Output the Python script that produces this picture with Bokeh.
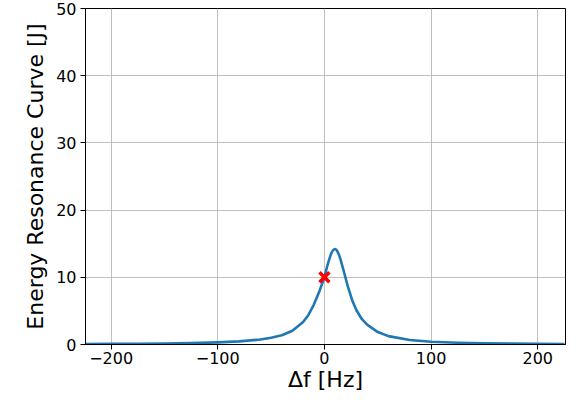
from bokeh.plotting import figure
from bokeh.models import FixedTicker, Range1d
from bokeh.embed import file_html
from bokeh.resources import INLINE

# Frequency detuning [Hz] and energy [J]
freq = [-225, -200, -175, -150, -125, -100, -80, -60, -50, -40, -30, -20, -15, -10, -5,
        0, 3, 6, 7, 8, 9, 10, 11, 12, 13.5, 15, 18, 22, 26, 30, 35, 40, 50, 60, 80, 100,
        125, 150, 175, 200, 225]
energy = [0.07, 0.09, 0.11, 0.15, 0.21, 0.31, 0.46, 0.74, 1.0, 1.38, 2.05, 3.35, 4.4, 5.9, 7.8,
          10.0, 11.9, 13.4, 13.75, 14.0, 14.15, 14.2, 14.12, 13.9, 13.4, 12.7, 11.0, 8.6, 6.6,
          5.1, 3.8, 2.95, 1.85, 1.25, 0.68, 0.42, 0.26, 0.18, 0.13, 0.10, 0.08]

marker_f = [0]
marker_e = [10]

x_ticks = [-200, -100, 0, 100, 200]
x_tick_labels = ["\u2212200", "\u2212100", "0", "100", "200"]
y_ticks = [0, 10, 20, 30, 40, 50]

p = figure(width=569, height=400, output_backend="svg", toolbar_location=None,
           x_range=Range1d(-224, 226), y_range=Range1d(0, 50),
           min_border_left=85, min_border_right=4, min_border_top=8, min_border_bottom=56)

p.line(freq, energy, line_color="#1f77b4", line_width=2.6, line_join="round")
p.scatter(marker_f, marker_e, marker="x", size=14, line_color="red", line_width=3.5)

p.xaxis.ticker = FixedTicker(ticks=x_ticks)
p.xaxis.major_label_overrides = {t: s for t, s in zip(x_ticks, x_tick_labels)}
p.yaxis.ticker = FixedTicker(ticks=y_ticks)
p.xaxis.axis_label = "Δf [Hz]"
p.yaxis.axis_label = "Energy Resonance Curve [J]"

for ax in (p.xaxis, p.yaxis):
    ax.axis_label_text_font = "DejaVu Sans"
    ax.axis_label_text_font_size = "22px"
    ax.axis_label_text_font_style = "normal"
    ax.axis_label_text_color = "black"
    ax.major_label_text_font = "DejaVu Sans"
    ax.major_label_text_font_size = "16px"
    ax.major_label_text_color = "black"
    ax.axis_line_color = "black"
    ax.axis_line_width = 1
    ax.major_tick_line_color = "black"
    ax.major_tick_out = 5
    ax.major_tick_in = 0
    ax.minor_tick_line_color = None

p.xaxis.axis_label_standoff = 0
p.yaxis.axis_label_standoff = 5
p.xaxis.major_label_standoff = 2
p.yaxis.major_label_standoff = 4

p.xgrid.grid_line_color = "#b0b0b0"
p.ygrid.grid_line_color = "#b0b0b0"
p.xgrid.grid_line_width = 0.8
p.ygrid.grid_line_width = 0.8

p.outline_line_color = "black"
p.outline_line_width = 1
p.background_fill_color = "white"
p.border_fill_color = "white"

open("out.html", "w").write(file_html(p, INLINE))
